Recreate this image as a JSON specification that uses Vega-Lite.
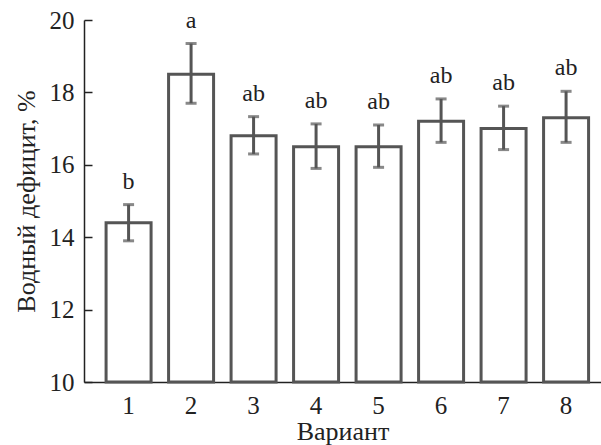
{
  "$schema": "https://vega.github.io/schema/vega-lite/v6.json",
  "autosize": "none",
  "padding": {"left": 84, "top": 20, "right": 0, "bottom": 63},
  "width": 517,
  "height": 362,
  "background": "white",
  "config": {
    "view": {"stroke": null},
    "font": "Liberation Serif",
    "axis": {"labelFont": "Liberation Serif", "titleFont": "Liberation Serif", "labelColor": "#222", "titleColor": "#222", "titleFontWeight": "normal", "grid": false, "domainColor": "#222", "domainWidth": 1.5, "tickColor": "#222", "tickWidth": 1.5}
  },
  "data": {
    "values": [
      {"v": "1", "mean": 14.4, "lo": 13.9, "hi": 14.9, "label": "b"},
      {"v": "2", "mean": 18.5, "lo": 17.7, "hi": 19.35, "label": "a"},
      {"v": "3", "mean": 16.8, "lo": 16.3, "hi": 17.33, "label": "ab"},
      {"v": "4", "mean": 16.5, "lo": 15.9, "hi": 17.13, "label": "ab"},
      {"v": "5", "mean": 16.5, "lo": 15.93, "hi": 17.1, "label": "ab"},
      {"v": "6", "mean": 17.2, "lo": 16.62, "hi": 17.82, "label": "ab"},
      {"v": "7", "mean": 17.0, "lo": 16.42, "hi": 17.62, "label": "ab"},
      {"v": "8", "mean": 17.3, "lo": 16.62, "hi": 18.03, "label": "ab"}
    ]
  },
  "encoding": {
    "x": {
      "field": "v", "type": "ordinal",
      "scale": {"paddingInner": 0.28, "paddingOuter": 0.276, "align": 0.64},
      "axis": {"title": "Вариант", "labelAngle": 0, "ticks": false, "labelFontSize": 25, "labelPadding": 11, "titleFontSize": 26, "titlePadding": 0}
    }
  },
  "layer": [
    {
      "mark": {"type": "bar", "fill": "white", "stroke": "#555", "strokeWidth": 3},
      "encoding": {
        "y": {
          "field": "mean", "type": "quantitative",
          "scale": {"domain": [10, 20], "zero": false, "nice": false},
          "axis": {"title": "Водный дефицит, %", "values": [10, 12, 14, 16, 18, 20], "tickSize": -8, "labelFontSize": 25, "labelPadding": 18, "titleFontSize": 26, "titlePadding": 10}
        },
        "y2": {"datum": 10}
      }
    },
    {
      "mark": {"type": "rule", "stroke": "#555", "strokeWidth": 3},
      "encoding": {"y": {"field": "lo", "type": "quantitative"}, "y2": {"field": "hi"}}
    },
    {
      "mark": {"type": "tick", "color": "#555", "thickness": 3, "size": 11},
      "encoding": {"y": {"field": "lo", "type": "quantitative"}}
    },
    {
      "mark": {"type": "tick", "color": "#555", "thickness": 3, "size": 11},
      "encoding": {"y": {"field": "hi", "type": "quantitative"}}
    },
    {
      "mark": {"type": "text", "baseline": "alphabetic", "dy": -16, "fontSize": 24, "color": "#222", "font": "Liberation Serif"},
      "encoding": {"y": {"field": "hi", "type": "quantitative"}, "text": {"field": "label"}}
    }
  ]
}
